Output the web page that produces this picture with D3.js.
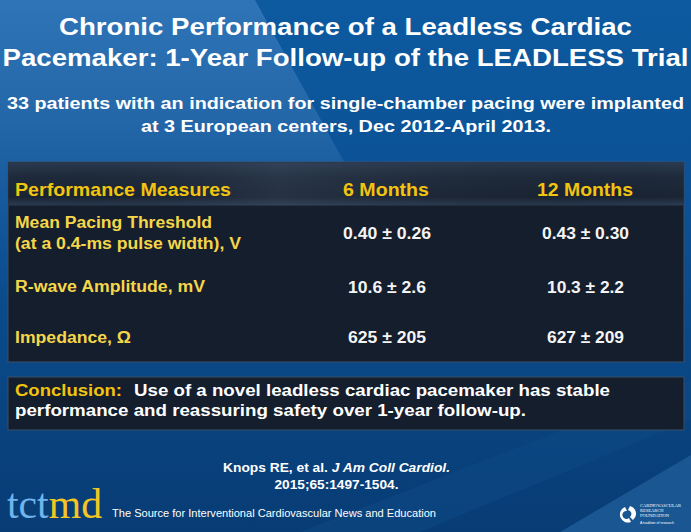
<!DOCTYPE html>
<html><head><meta charset="utf-8">
<script src="https://cdn.jsdelivr.net/npm/d3@7"></script>
<style>html,body{margin:0;padding:0;background:#0b4a8a;overflow:hidden}svg{display:block}</style>
</head><body>
<script>
const titleLines = ["Chronic Performance of a Leadless Cardiac", "Pacemaker: 1-Year Follow-up of the LEADLESS Trial"];
const subtitleLines = ["33 patients with an indication for single-chamber pacing were implanted", "at 3 European centers, Dec 2012-April 2013."];
const columns = ["Performance Measures", "6 Months", "12 Months"];
const measures = [["Mean Pacing Threshold", "(at a 0.4-ms pulse width), V"], ["R-wave Amplitude, mV"], ["Impedance, \u03A9"]];
const sixMonths = ["0.40 \u00B1 0.26", "10.6 \u00B1 2.6", "625 \u00B1 205"];
const twelveMonths = ["0.43 \u00B1 0.30", "10.3 \u00B1 2.2", "627 \u00B1 209"];
const conclusionLabel = "Conclusion:";
const conclusionLines = ["Use of a novel leadless cardiac pacemaker has stable", "performance and reassuring safety over 1-year follow-up."];
const citationLines = [["Knops RE, et al. ", "J Am Coll Cardiol."], ["2015;65:1497-1504.", ""]];
const footerText = "The Source for Interventional Cardiovascular News and Education";

const W = 691, H = 532;
const F = "'Liberation Sans', Arial, sans-serif";
const YEL = "#f2c40f";
const svg = d3.select("body").append("svg").attr("width", W).attr("height", H);
const defs = svg.append("defs");

// fit helper: stretch text to a measured width
function fit(sel, widths) {
  sel.attr("textLength", (d,i)=> Array.isArray(widths) ? widths[i] : widths).attr("lengthAdjust","spacingAndGlyphs");
  return sel;
}

// background
const bg = defs.append("linearGradient").attr("id","bg").attr("x1",0).attr("y1",0).attr("x2",0).attr("y2",1);
bg.append("stop").attr("offset",0).attr("stop-color","#0d5aa0");
bg.append("stop").attr("offset",0.45).attr("stop-color","#0b4f92");
bg.append("stop").attr("offset",1).attr("stop-color","#083c74");
svg.append("rect").attr("width",W).attr("height",H).attr("fill","url(#bg)");
const lg = defs.append("linearGradient").attr("id","lg").attr("x1",0).attr("y1",0).attr("x2",0).attr("y2",1);
lg.append("stop").attr("offset",0).attr("stop-color","#2e74b6").attr("stop-opacity",1);
lg.append("stop").attr("offset",0.4).attr("stop-color","#2a6cad").attr("stop-opacity",0.8);
lg.append("stop").attr("offset",1).attr("stop-color","#1d5c9c").attr("stop-opacity",0);
svg.append("path").attr("d","M0,0 L255,0 L420,300 L0,300 Z").attr("fill","url(#lg)");
svg.append("path").attr("d","M560,532 L691,455 L691,532 Z").attr("fill","#1f5d98").attr("opacity",0.8);
svg.append("path").attr("d","M300,532 L691,380 L691,420 L420,532 Z").attr("fill","#0e4a86").attr("opacity",0.5);

// title
fit(svg.append("g").selectAll("text").data(titleLines).join("text")
  .attr("x", W/2).attr("y", (d,i)=>35+i*31).attr("text-anchor","middle")
  .attr("font-family",F).attr("font-weight","bold").attr("font-size",24.5).attr("fill","#fff").text(d=>d), [573, 686]);

fit(svg.append("g").selectAll("text").data(subtitleLines).join("text")
  .attr("x", (d,i)=> i===0 ? 345.5 : 346).attr("y", (d,i)=>109+i*23).attr("text-anchor","middle")
  .attr("font-family",F).attr("font-weight","bold").attr("font-size",16.5).attr("fill","#fff").text(d=>d), [677, 410]);

// table
const tx = 8, tw = 676, ty = 162, th = 200, hh = 43;
svg.append("rect").attr("x",tx).attr("y",ty).attr("width",tw).attr("height",th).attr("fill","#141e2c").attr("stroke","#3a4e66").attr("stroke-width",1);
const hg = defs.append("linearGradient").attr("id","hg").attr("x1",0).attr("y1",0).attr("x2",0).attr("y2",1);
hg.append("stop").attr("offset",0).attr("stop-color","#2a3a4f");
hg.append("stop").attr("offset",0.35).attr("stop-color","#1e2a3b");
hg.append("stop").attr("offset",0.8).attr("stop-color","#1a2433");
hg.append("stop").attr("offset",1).attr("stop-color","#2c3c52");
const hg2 = defs.append("linearGradient").attr("id","hg2").attr("x1",0).attr("y1",0).attr("x2",1).attr("y2",0);
hg2.append("stop").attr("offset",0).attr("stop-color","#000").attr("stop-opacity",0);
hg2.append("stop").attr("offset",0.4).attr("stop-color","#4a5a70").attr("stop-opacity",0.25);
hg2.append("stop").attr("offset",1).attr("stop-color","#000").attr("stop-opacity",0);
svg.append("rect").attr("x",tx+0.5).attr("y",ty+0.5).attr("width",tw-1).attr("height",hh).attr("fill","url(#hg)");
svg.append("rect").attr("x",tx+0.5).attr("y",ty+0.5).attr("width",tw-1).attr("height",hh).attr("fill","url(#hg2)");

const colX = d3.scaleOrdinal().domain(columns).range([15, 386, 585]);
const anchors = ["start","middle","middle"];
fit(svg.append("g").selectAll("text").data(columns).join("text")
  .attr("x", d=>colX(d)).attr("y",196).attr("text-anchor",(d,i)=>anchors[i])
  .attr("font-family",F).attr("font-weight","bold").attr("font-size",17.5).attr("fill",YEL).text(d=>d), [216, 86, 96]);

const rowBase = [[228, 249], [292], [343]];
const valueBase = [239, 293, 343];
const labelW = [[197, 226], [190], [116]];
const sixW = [88, 78, 78];
const twelveW = [87, 77, 77];
const rowsG = svg.append("g");
measures.forEach((lines,i)=>{
  fit(rowsG.selectAll(null).data(lines).join("text")
    .attr("x",15).attr("y",(d,j)=> rowBase[i][j])
    .attr("font-family",F).attr("font-weight","bold").attr("font-size",16).attr("fill","#f5d64a").text(d=>d), labelW[i]);
  rowsG.append("text").attr("x",colX(columns[1])+1).attr("y",valueBase[i]).attr("text-anchor","middle")
    .attr("font-family",F).attr("font-weight","bold").attr("font-size",16).attr("fill","#f4f4f4")
    .attr("textLength",sixW[i]).attr("lengthAdjust","spacingAndGlyphs").text(sixMonths[i]);
  rowsG.append("text").attr("x",colX(columns[2])+0.5).attr("y",valueBase[i]).attr("text-anchor","middle")
    .attr("font-family",F).attr("font-weight","bold").attr("font-size",16).attr("fill","#f4f4f4")
    .attr("textLength",twelveW[i]).attr("lengthAdjust","spacingAndGlyphs").text(twelveMonths[i]);
});

// conclusion
svg.append("rect").attr("x",tx).attr("y",377).attr("width",tw).attr("height",53).attr("fill","#141e2c").attr("stroke","#3a4e66");
svg.append("text").attr("x",15).attr("y",396).attr("font-family",F).attr("font-weight","bold").attr("font-size",17).attr("fill",YEL)
  .attr("textLength",107).attr("lengthAdjust","spacingAndGlyphs").text(conclusionLabel);
svg.append("text").attr("x",134).attr("y",396).attr("font-family",F).attr("font-weight","bold").attr("font-size",17).attr("fill","#fff")
  .attr("textLength",476).attr("lengthAdjust","spacingAndGlyphs").text(conclusionLines[0]);
svg.append("text").attr("x",15).attr("y",416).attr("font-family",F).attr("font-weight","bold").attr("font-size",17).attr("fill","#fff")
  .attr("textLength",511).attr("lengthAdjust","spacingAndGlyphs").text(conclusionLines[1]);

// citation
const citeW = [227, 124];
citationLines.forEach((parts,i)=>{
  const t = svg.append("text").attr("x",336.5).attr("y",472+i*17).attr("text-anchor","middle")
    .attr("font-family",F).attr("font-weight","bold").attr("font-size",12.5).attr("fill","#fff")
    .attr("textLength",citeW[i]).attr("lengthAdjust","spacingAndGlyphs");
  t.append("tspan").text(parts[0]);
  if (parts[1]) t.append("tspan").attr("font-style","italic").text(parts[1]);
});

// footer logo
const lt = svg.append("text").attr("x",7).attr("y",518).attr("font-family","'Liberation Serif','DejaVu Serif',serif").attr("font-size",42)
  .attr("textLength",95).attr("lengthAdjust","spacingAndGlyphs");
lt.append("tspan").attr("fill","#6fb4ea").text("tct");
lt.append("tspan").attr("fill","#f3c623").text("md");
svg.append("text").attr("x",112).attr("y",517).attr("font-family",F).attr("font-size",11).attr("fill","#fff")
  .attr("textLength",324).attr("lengthAdjust","spacingAndGlyphs").text(footerText);

// CRF logo
const crf = svg.append("g").attr("transform","translate(628,515)");
crf.append("path").attr("d","M-3,-8 A8,8 0 1,0 3,7 L1,3 A4,4 0 1,1 -1,-4 Z").attr("fill","#fff");
crf.append("path").attr("d","M2,-9 A8,8 0 0,1 5,5 L2,2 A4,4 0 0,0 0,-5 Z").attr("fill","#fff");
["CARDIOVASCULAR","RESEARCH","FOUNDATION"].forEach((s,i)=>{
  crf.append("text").attr("x",12).attr("y",-8+i*5).attr("font-family","'Liberation Serif',serif").attr("font-size",4.5).attr("fill","#fff").text(s);
});
crf.append("text").attr("x",12).attr("y",9).attr("font-family",F).attr("font-size",3.5).attr("fill","#fff").text("A tradition of research");
</script>
</body></html>
